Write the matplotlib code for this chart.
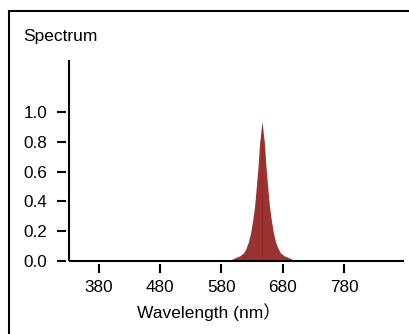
import matplotlib
matplotlib.use("Agg")
import matplotlib.pyplot as plt
from matplotlib.patches import Rectangle
import numpy as np

plt.rcParams["font.family"] = ["Liberation Sans", "Noto Sans CJK SC", "DejaVu Sans"]

# Spectrum (nm, relative intensity)
WAVELENGTH = [586, 596, 604, 610, 616, 620, 624, 628, 631, 634, 637, 640, 642, 644,
              645, 646, 647, 648, 650, 652, 655, 658, 661, 664, 668, 672, 676, 682,
              688, 696, 704]
INTENSITY = [0.0, 0.01, 0.025, 0.035, 0.055, 0.085, 0.13, 0.20, 0.28, 0.37, 0.51,
             0.66, 0.79, 0.86, 0.90, 0.937, 0.90, 0.86, 0.79, 0.66, 0.51, 0.37,
             0.28, 0.20, 0.13, 0.085, 0.055, 0.035, 0.025, 0.01, 0.0]

X_TICKS = [380, 480, 580, 680, 780]
Y_TICKS = [0.0, 0.2, 0.4, 0.6, 0.8, 1.0]

W, H = 409, 334
fig = plt.figure(figsize=(W / 100, H / 100), dpi=100)

# axes box in pixel terms: left 69, right 404, top 60, bottom 261
ax = fig.add_axes([69 / W, 1 - 261 / H, (404 - 69) / W, (261 - 60) / H])

ax.fill_between(WAVELENGTH, INTENSITY, 0, color="#9b3232", linewidth=0)
peak = int(np.argmax(INTENSITY))
ax.vlines(WAVELENGTH[peak], 0, INTENSITY[peak] * 0.97, color="#902626", linewidth=0.6)

ax.set_xlim(332, 877)
ax.set_ylim(0, 1.35)
ax.set_xticks(X_TICKS)
ax.set_yticks(Y_TICKS)
ax.set_yticklabels([f"{v:.1f}" for v in Y_TICKS])

for side in ["top", "right"]:
    ax.spines[side].set_visible(False)
for side in ["left", "bottom"]:
    ax.spines[side].set_position(("outward", 2.2))
    ax.spines[side].set_visible(False)

# axis lines drawn separately so the ticks sit detached from them
ax.plot([0, 0], [0, 1], transform=ax.transAxes, color="black", lw=1.5,
        clip_on=False, solid_capstyle="butt")
ax.plot([0, 1], [0, 0], transform=ax.transAxes, color="black", lw=1.5,
        clip_on=False, solid_capstyle="butt")

ax.tick_params(axis="both", direction="out", length=6.5, width=1.5,
               labelsize=12.3, colors="black")
ax.tick_params(axis="y", pad=7)
ax.tick_params(axis="x", pad=5)
ax.patch.set_visible(False)

fig.text(23 / W, 1 - 41.5 / H, "Spectrum", fontsize=12.5, ha="left", va="baseline")
fig.text(137 / W, 1 - 318 / H, "Wavelength (nm\uff09", fontsize=12.5,
         ha="left", va="baseline")

# outer frame running off the right and bottom edges
fig.patches.append(Rectangle((8.5 / W, -0.2), 1.5, 1.2 - 11 / H,
                             transform=fig.transFigure, fill=False,
                             edgecolor="black", linewidth=1.5))

fig.savefig("out.png", dpi=100)
